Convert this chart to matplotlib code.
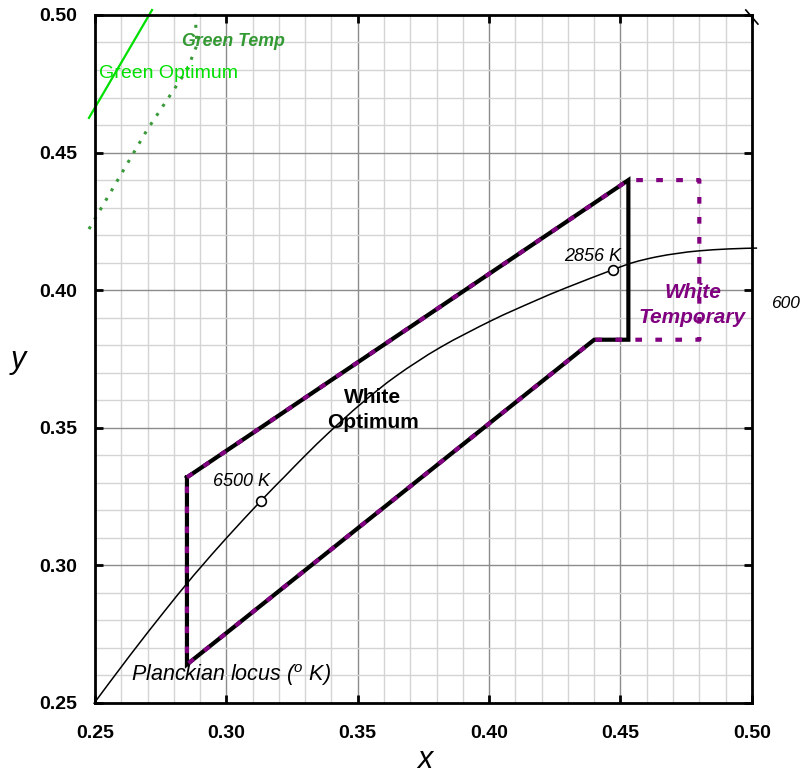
import numpy as np
import matplotlib
matplotlib.use('Agg')
import matplotlib.pyplot as plt
from matplotlib.ticker import MultipleLocator
from matplotlib.path import Path
from matplotlib.patches import PathPatch

plt.rcParams['font.family'] = ['Liberation Sans', 'DejaVu Sans']
plt.rcParams['mathtext.fontset'] = 'custom'
plt.rcParams['mathtext.it'] = 'Liberation Sans:italic'
plt.rcParams['mathtext.rm'] = 'Liberation Sans'

# Planckian locus (x, y)
planck_x = [0.2495, 0.2634, 0.2760, 0.2849, 0.2904, 0.3000, 0.3132, 0.3222, 0.3300,
            0.3394, 0.3516, 0.3649, 0.3814, 0.4010, 0.4167, 0.4294, 0.4473, 0.4550,
            0.4637, 0.4720, 0.4800, 0.4914, 0.5020]
planck_y = [0.2497, 0.2674, 0.2828, 0.2933, 0.2995, 0.3099, 0.3235, 0.3323, 0.3399,
            0.3486, 0.3590, 0.3690, 0.3792, 0.3890, 0.3958, 0.4009, 0.4075, 0.4101,
            0.4121, 0.4134, 0.4143, 0.4150, 0.4153]

# marked temperatures
mark_x = [0.3132, 0.4473]
mark_y = [0.3235, 0.4075]
mark_lbl = ['6500 K', '2856 K']

# white optimum region
wopt_x = [0.285, 0.453, 0.453, 0.440, 0.285, 0.285]
wopt_y = [0.332, 0.440, 0.382, 0.382, 0.264, 0.332]

# white temporary region
wtmp_x = [0.285, 0.453, 0.480, 0.480, 0.440, 0.285, 0.285]
wtmp_y = [0.332, 0.440, 0.440, 0.382, 0.382, 0.264, 0.332]

# green regions (edges visible in the window)
gopt_x = [0.2477, 0.2717]
gopt_y = [0.4626, 0.5018]
gtmp_x = [0.2477, 0.2698, 0.2850, 0.2888, 0.2880]
gtmp_y = [0.4222, 0.4582, 0.4800, 0.4891, 0.5018]

# stray edge at top right corner
corner_x = [0.4977, 0.5023]
corner_y = [0.5018, 0.4967]

ticks = [0.25, 0.30, 0.35, 0.40, 0.45, 0.50]
tick_lbl = ['0.25', '0.30', '0.35', '0.40', '0.45', '0.50']


def smooth_path(xs, ys):
    # bezier segments through the read points (Catmull-Rom style handles)
    p = np.column_stack([xs, ys])
    n = len(p)
    verts = [p[0]]
    codes = [Path.MOVETO]
    for i in range(n - 1):
        p0 = p[max(i - 1, 0)]
        p3 = p[min(i + 2, n - 1)]
        c1 = p[i] + (p[i + 1] - p0) / 6
        c2 = p[i + 1] - (p3 - p[i]) / 6
        verts += [c1, c2, p[i + 1]]
        codes += [Path.CURVE4] * 3
    return Path(verts, codes)


fig = plt.figure(figsize=(8.05, 7.76), dpi=100)
ax = fig.add_axes([0.118, 0.0941, 0.816, 0.8866])
ax.set_xlim(0.25, 0.50)
ax.set_ylim(0.25, 0.50)

ax.xaxis.set_minor_locator(MultipleLocator(0.01))
ax.yaxis.set_minor_locator(MultipleLocator(0.01))
ax.grid(which='minor', color='#d4d4d4', lw=1.0)
ax.grid(which='major', color='#8c8c8c', lw=1.0)
ax.set_axisbelow(True)

ax.set_xticks(ticks)
ax.set_xticklabels(tick_lbl, fontweight='bold', fontsize=14)
ax.set_yticks(ticks)
ax.set_yticklabels(tick_lbl, fontweight='bold', fontsize=14)
ax.tick_params(which='major', direction='in', length=6, width=2,
               top=True, right=True)
ax.tick_params(axis='x', pad=16)
ax.tick_params(axis='y', pad=13)
ax.tick_params(which='minor', length=0)
for s in ax.spines.values():
    s.set_linewidth(2)

fig.text(425 / 805, 1 - 760 / 776, 'x', fontsize=22, style='italic',
         ha='center', va='center')
fig.text(18 / 805, 1 - 360 / 776, 'y', fontsize=22, style='italic',
         ha='center', va='center')

# Planckian locus
locus = PathPatch(smooth_path(planck_x, planck_y), fc='none', ec='black',
                  lw=1.1, clip_on=False, zorder=3)
ax.add_patch(locus)
ax.plot(mark_x, mark_y, 'o', ms=7, mfc='white', mec='black', mew=1.2, zorder=6)
ax.text(0.3166, 0.3303, mark_lbl[0], fontsize=13, style='italic',
        ha='right', va='center')
ax.text(0.4504, 0.4124, mark_lbl[1], fontsize=13, style='italic',
        ha='right', va='center')
ax.text(0.2637, 0.2602, 'Planckian locus ($^o$ K)', fontsize=15.5, style='italic',
        va='center')
ax.text(0.5074, 0.3953, '600', fontsize=12.5, style='italic', va='center',
        clip_on=False)
ax.plot(corner_x, corner_y, color='black', lw=1.2, clip_on=False)

# white regions
ax.plot(wopt_x, wopt_y, color='black', lw=3, zorder=4, solid_joinstyle='miter')
ax.plot(wtmp_x, wtmp_y, color='#800080', lw=3, ls=(0, (1.6, 3.2)), zorder=5)
ax.text(0.3557, 0.3565, 'White\nOptimum', fontsize=15, fontweight='bold',
        ha='center', va='center', linespacing=1.35)
ax.text(0.4774, 0.3946, 'White\nTemporary', fontsize=15, fontweight='bold',
        style='italic', color='#800080', ha='center', va='center', linespacing=1.35)

# green regions
ax.plot(gopt_x, gopt_y, color='#00e000', lw=1.6, clip_on=False)
ax.plot(gtmp_x, gtmp_y, color='#3a9a3a', lw=2.2, ls=(0, (1, 2.6)), clip_on=False)
ax.text(0.2515, 0.4786, 'Green Optimum', fontsize=14, color='#00e000', va='center')
ax.text(0.2831, 0.4902, 'Green Temp', fontsize=12.8, color='#339933',
        fontweight='bold', style='italic', va='center')

fig.savefig('out.png', dpi=100)
